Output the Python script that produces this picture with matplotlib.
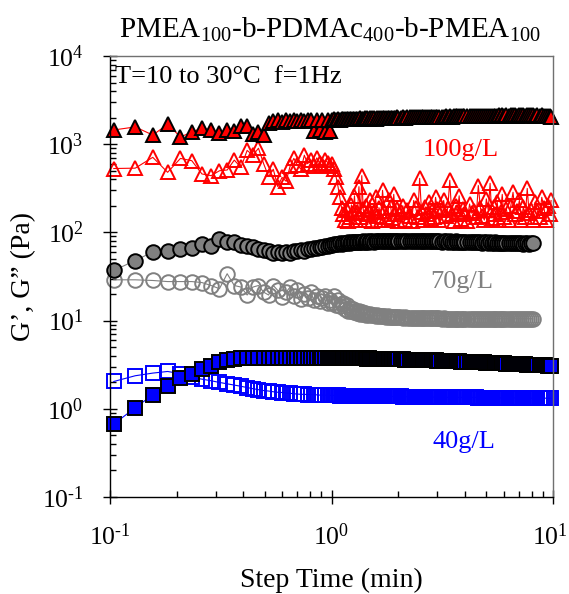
import matplotlib
matplotlib.use("Agg")
import matplotlib.pyplot as plt
from matplotlib.ticker import LogLocator, NullFormatter, FuncFormatter
from matplotlib.transforms import ScaledTranslation
import math

plt.rcParams.update({
    "font.family": ["Liberation Serif", "DejaVu Serif"],
    "mathtext.fontset": "custom",
    "mathtext.rm": "Liberation Serif",
    "mathtext.it": "Liberation Serif:italic",
    "mathtext.default": "regular",
    "axes.unicode_minus": False,
})

# Step times (min)
step_time = [
    0.104, 0.130, 0.156, 0.182, 0.208, 0.234, 0.260, 0.286, 0.312, 0.338,
    0.364, 0.390, 0.416, 0.442, 0.468, 0.494, 0.520, 0.546, 0.572, 0.598,
    0.624, 0.650, 0.676, 0.702, 0.728, 0.754, 0.780, 0.806, 0.832, 0.858,
    0.884, 0.910, 0.936, 0.962, 0.988,
    1.01, 1.03, 1.05, 1.07, 1.09, 1.11, 1.13, 1.15, 1.17, 1.19,
    1.21, 1.23, 1.25, 1.27, 1.29, 1.31, 1.33, 1.35, 1.37, 1.39,
    1.41, 1.43, 1.45, 1.47, 1.49,
    1.52, 1.55, 1.58, 1.61, 1.64, 1.67, 1.70, 1.73, 1.76, 1.79,
    1.82, 1.85, 1.88, 1.91, 1.94, 1.97, 2.00,
    2.05, 2.10, 2.15, 2.20, 2.25, 2.30, 2.35, 2.40, 2.45, 2.50,
    2.55, 2.60, 2.65, 2.70, 2.75, 2.80, 2.85, 2.90, 2.95, 3.00,
    3.07, 3.14, 3.21, 3.28, 3.35, 3.42, 3.49, 3.56, 3.63, 3.70,
    3.77, 3.84, 3.91, 3.98,
    4.1, 4.2, 4.3, 4.4, 4.5, 4.6, 4.7, 4.8, 4.9, 5.0,
    5.1, 5.2, 5.3, 5.4, 5.5, 5.6, 5.7, 5.8, 5.9, 6.0,
    6.15, 6.30, 6.45, 6.60, 6.75, 6.90, 7.05, 7.20, 7.35, 7.50,
    7.65, 7.80, 7.95,
    8.1, 8.3, 8.5, 8.7, 8.9, 9.1, 9.3, 9.5, 9.7, 9.8,
]

# 100 g/L : storage modulus G' (Pa)
g1_100 = [
    1450, 1570, 1270, 1680, 1210, 1370, 1530, 1440, 1330, 1450,
    1420, 1620, 1590, 1300, 1360, 1280, 1750, 1830, 1880, 1800,
    1870, 1840, 1900, 1820, 1880, 1850, 1890, 1870, 1400, 1880,
    1450, 1890, 1380, 1900, 1420,
    1890, 1910, 1880, 1920, 1900, 1930, 1910, 1920, 1940, 1910,
    1930, 1950, 1920, 1940, 1930, 1950, 1940, 1960, 1930, 1950,
    1960, 1940, 1970, 1950, 1960,
    1960, 1970, 1950, 1980, 1970, 1960, 1980, 1990, 1970, 1980,
    1990, 2000, 1980, 1990, 2000, 2010, 1990,
    2000, 2010, 2000, 2020, 2010, 2020, 2030, 2010, 2030, 2020,
    2040, 2030, 2040, 2030, 2050, 2040, 2050, 2040, 2060, 2050,
    2060, 2050, 2060, 2070, 2060, 2070, 2060, 2070, 2080, 2070,
    2080, 2070, 2080, 2090,
    2080, 2090, 2080, 2090, 2100, 2090, 2100, 2090, 2100, 2110,
    2100, 2110, 2100, 2110, 2100, 2110, 2120, 2110, 2120, 2110,
    2120, 2110, 2120, 2130, 2120, 2110, 2120, 2130, 2120, 2110,
    2120, 2130, 2120,
    2120, 2110, 2120, 2110, 2120, 2100, 2110, 2090, 2080, 2060,
]
# 100 g/L : loss modulus G'' (Pa)
g2_100 = [
    530, 535, 710, 480, 690, 650, 460, 440, 500, 510,
    660, 545, 850, 750, 900, 600, 430, 520, 330, 420,
    380, 560, 690, 580, 520, 750, 600, 660, 560, 700,
    610, 580, 660, 620, 560,
    600, 520, 420, 330, 250, 190, 160, 140, 180, 136,
    150, 205, 165, 260, 138, 172, 330, 150, 440, 185,
    140, 200, 160, 180, 230,
    136, 170, 250, 155, 190, 140, 300, 175, 150, 138,
    230, 195, 145, 270, 160, 185, 136,
    170, 200, 140, 180, 155, 135, 230, 190, 150, 410,
    170, 138, 195, 160, 220, 142, 175, 150, 250, 185,
    140, 180, 230, 155, 190, 390, 160, 135, 200, 170,
    260, 142, 185, 160,
    136, 210, 165, 175, 148, 340, 190, 155, 138, 240,
    180, 360, 145, 195, 160, 220, 137, 170, 270, 150,
    185, 140, 200, 285, 160, 175, 230, 138, 195, 150,
    315, 165, 180,
    140, 220, 175, 150, 250, 190, 138, 200, 160, 230,
]

# 70 g/L (runs end at 8.1 min)
g1_70 = [
    37, 48, 60, 62, 65, 67, 74, 71, 85, 78,
    78, 72, 70, 68, 65, 63, 61, 59, 60, 58,
    60, 59, 62, 61, 63, 62, 65, 64, 66, 66,
    68, 68, 70, 70, 72,
    72, 73, 74, 73, 75, 74, 76, 75, 76, 77,
    76, 77, 77, 78, 77, 78, 78, 77, 78, 79,
    78, 78, 79, 78, 79,
    79, 78, 79, 79, 80, 79, 79, 80, 79, 80,
    80, 79, 80, 80, 79, 80, 80,
    80, 79, 80, 80, 79, 80, 80, 80, 79, 80,
    80, 79, 80, 79, 80, 79, 79, 80, 79, 79,
    79, 78, 79, 79, 78, 79, 78, 78, 79, 78,
    78, 77, 78, 78,
    77, 78, 77, 77, 78, 77, 77, 76, 77, 77,
    76, 77, 76, 76, 77, 76, 76, 75, 76, 76,
    76, 75, 76, 75, 75, 76, 75, 75, 74, 75,
    75, 74, 75,
    75,
]
g2_70 = [
    29, 29, 28.5, 27.7, 27.7, 27.7, 27, 25, 23, 34,
    25, 24, 19.5, 24, 25, 21, 19.5, 25, 22, 18.5,
    21, 24, 19, 22, 17.5, 20, 18, 21, 17, 19,
    16.5, 18, 19, 16, 17,
    16, 19, 15, 17, 14.5, 15.5, 16, 13.5, 15, 13,
    14, 12.8, 13.5, 12.5, 13, 12.2, 12.8, 12, 12.5, 11.8,
    12.2, 11.7, 12, 11.6, 11.8,
    11.5, 11.7, 11.4, 11.5, 11.3, 11.4, 11.2, 11.3, 11.1, 11.2,
    11.0, 11.1, 11.0, 11.0, 10.9, 11.0, 10.9,
    10.9, 10.8, 10.9, 10.8, 10.8, 10.8, 10.7, 10.8, 10.7, 10.7,
    10.7, 10.7, 10.6, 10.7, 10.6, 10.6, 10.6, 10.6, 10.6, 10.6,
    10.6, 10.5, 10.6, 10.5, 10.5, 10.5, 10.5, 10.5, 10.5, 10.5,
    10.5, 10.5, 10.5, 10.5,
    10.5, 10.5, 10.5, 10.5, 10.5, 10.5, 10.5, 10.5, 10.5, 10.5,
    10.5, 10.5, 10.5, 10.5, 10.5, 10.5, 10.5, 10.5, 10.5, 10.5,
    10.5, 10.5, 10.5, 10.5, 10.5, 10.5, 10.5, 10.5, 10.5, 10.5,
    10.5, 10.5, 10.5,
    10.5,
]

# 40 g/L
g1_40 = [
    0.67, 1.03, 1.44, 1.83, 2.23, 2.48, 2.83, 3.08, 3.36, 3.55,
    3.67, 3.72, 3.75, 3.76, 3.77, 3.78, 3.78, 3.78, 3.79, 3.78,
    3.79, 3.78, 3.79, 3.78, 3.78, 3.79, 3.78, 3.78, 3.77, 3.78,
    3.77, 3.77, 3.77, 3.76, 3.76,
    3.76, 3.76, 3.75, 3.76, 3.75, 3.75, 3.75, 3.74, 3.75, 3.74,
    3.74, 3.74, 3.73, 3.74, 3.73, 3.73, 3.73, 3.72, 3.73, 3.72,
    3.72, 3.72, 3.71, 3.72, 3.71,
    3.71, 3.70, 3.70, 3.70, 3.69, 3.69, 3.68, 3.68, 3.68, 3.67,
    3.67, 3.66, 3.66, 3.65, 3.65, 3.64, 3.64,
    3.63, 3.63, 3.62, 3.62, 3.61, 3.60, 3.60, 3.59, 3.59, 3.58,
    3.57, 3.57, 3.56, 3.56, 3.55, 3.54, 3.54, 3.53, 3.53, 3.52,
    3.51, 3.50, 3.50, 3.49, 3.48, 3.47, 3.47, 3.46, 3.45, 3.45,
    3.44, 3.43, 3.43, 3.42,
    3.41, 3.40, 3.39, 3.39, 3.38, 3.37, 3.36, 3.36, 3.35, 3.34,
    3.33, 3.33, 3.32, 3.31, 3.30, 3.30, 3.29, 3.28, 3.28, 3.27,
    3.26, 3.25, 3.24, 3.23, 3.22, 3.21, 3.20, 3.19, 3.19, 3.18,
    3.17, 3.16, 3.15,
    3.14, 3.13, 3.12, 3.12, 3.11, 3.10, 3.10, 3.09, 3.09, 3.08,
]
g2_40 = [
    2.04, 2.37, 2.54, 2.65, 2.50, 2.27, 2.17, 2.08, 1.99, 1.92,
    1.86, 1.80, 1.74, 1.69, 1.65, 1.61, 1.59, 1.56, 1.54, 1.53,
    1.51, 1.50, 1.48, 1.47, 1.46, 1.46, 1.45, 1.45, 1.44, 1.44,
    1.43, 1.43, 1.43, 1.42, 1.42,
    1.42, 1.42, 1.42, 1.42, 1.41, 1.41, 1.41, 1.41, 1.41, 1.41,
    1.41, 1.40, 1.40, 1.40, 1.40, 1.40, 1.40, 1.40, 1.40, 1.40,
    1.39, 1.39, 1.39, 1.39, 1.39,
    1.39, 1.39, 1.39, 1.39, 1.39, 1.39, 1.38, 1.38, 1.38, 1.38,
    1.38, 1.38, 1.38, 1.38, 1.38, 1.38, 1.38,
    1.38, 1.37, 1.37, 1.37, 1.37, 1.37, 1.37, 1.37, 1.37, 1.37,
    1.36, 1.36, 1.36, 1.36, 1.36, 1.36, 1.36, 1.36, 1.36, 1.36,
    1.35, 1.35, 1.35, 1.35, 1.35, 1.35, 1.35, 1.35, 1.35, 1.35,
    1.35, 1.35, 1.35, 1.35,
    1.35, 1.35, 1.35, 1.35, 1.35, 1.34, 1.34, 1.34, 1.34, 1.34,
    1.34, 1.34, 1.34, 1.34, 1.33, 1.33, 1.33, 1.33, 1.33, 1.33,
    1.33, 1.33, 1.33, 1.33, 1.33, 1.33, 1.33, 1.32, 1.32, 1.32,
    1.32, 1.32, 1.32,
    1.32, 1.32, 1.32, 1.32, 1.32, 1.32, 1.32, 1.32, 1.32, 1.32,
]

RED, GRAY, BLUE = "#ff0000", "#808080", "#0000ff"
W, H = 569, 594


def fx(px):
    return px / W


def fy(py):
    return 1 - py / H


fig = plt.figure(figsize=(W / 100, H / 100), dpi=100)
ax = fig.add_axes([fx(110), fy(497), 443 / W, 441 / H])

n70 = len(g1_70)
series = [
    (step_time, g2_100, RED, "^", 9.5, False),
    (step_time, g1_100, RED, "^", 9.5, True),
    (step_time[:n70], g2_70, GRAY, "o", 10.5, False),
    (step_time[:n70], g1_70, GRAY, "o", 10.5, True),
    (step_time, g2_40, BLUE, "s", 9.5, False),
    (step_time, g1_40, BLUE, "s", 9.5, True),
]
for t, y, c, m, ms, filled in series:
    if filled:
        ax.plot(t, y, color=c, lw=0.8, marker=m, ms=ms, mfc=c, mec="black",
                mew=1.4, clip_on=False)
    else:
        ax.plot(t, y, color=c, lw=0.8, marker=m, ms=ms, mfc="none", mec=c,
                mew=1.4, clip_on=False)

ax.set_xscale("log")
ax.set_yscale("log")
ax.set_xlim(0.1, 10)
ax.set_ylim(0.1, 1e4)


def pow_label(v, pos):
    e = int(round(math.log10(v)))
    return r"$10^{\text{%d}}$" % e


ax.xaxis.set_major_locator(LogLocator(base=10, numticks=10))
ax.yaxis.set_major_locator(LogLocator(base=10, numticks=10))
ax.xaxis.set_major_formatter(FuncFormatter(pow_label))
ax.yaxis.set_major_formatter(FuncFormatter(pow_label))
ax.xaxis.set_minor_locator(LogLocator(base=10, subs=range(2, 10), numticks=20))
ax.yaxis.set_minor_locator(LogLocator(base=10, subs=range(2, 10), numticks=20))
ax.xaxis.set_minor_formatter(NullFormatter())
ax.yaxis.set_minor_formatter(NullFormatter())

ax.tick_params(which="major", direction="inout", length=10, width=1.0,
               labelsize=18.5, pad=14, top=False, right=False)
ax.tick_params(which="minor", direction="in", length=4, width=1.0,
               top=False, right=False)

for side in ("left", "bottom"):
    ax.spines[side].set_color("black")
    ax.spines[side].set_linewidth(1.0)
for side in ("top", "right"):
    ax.spines[side].set_color("#707070")
    ax.spines[side].set_linewidth(1.0)

ax.set_xlabel("Step Time (min)", fontsize=20, labelpad=13)
ax.set_ylabel("G\u2019, G\u201d (Pa)", fontsize=20, labelpad=4)

fig.text(fx(330), fy(30),
         "PMEA$_{100}$-b-PDMAc$_{400}$-b-PMEA$_{100}$",
         ha="center", va="center", fontsize=21)

fig.text(fx(115), fy(77), "T=10 to 30\u00b0C  f=1Hz",
         ha="left", va="center", fontsize=19)
fig.text(fx(461), fy(150), "100g/L", fontsize=19, color=RED,
         ha="center", va="center")
fig.text(fx(462), fy(282), "70g/L", fontsize=19, color=GRAY,
         ha="center", va="center")
fig.text(fx(464), fy(442), "40g/L", fontsize=19, color=BLUE,
         ha="center", va="center")

# nudge the 10^1 tick label a few pixels left so it stays on the canvas
fig.canvas.draw()
for tick in ax.xaxis.get_major_ticks():
    if abs(tick.get_loc() - 10.0) < 1e-9:
        tick.label1.set_transform(
            tick.label1.get_transform()
            + ScaledTranslation(-3 / 100, 0, fig.dpi_scale_trans))

fig.savefig("out.png", dpi=100)
